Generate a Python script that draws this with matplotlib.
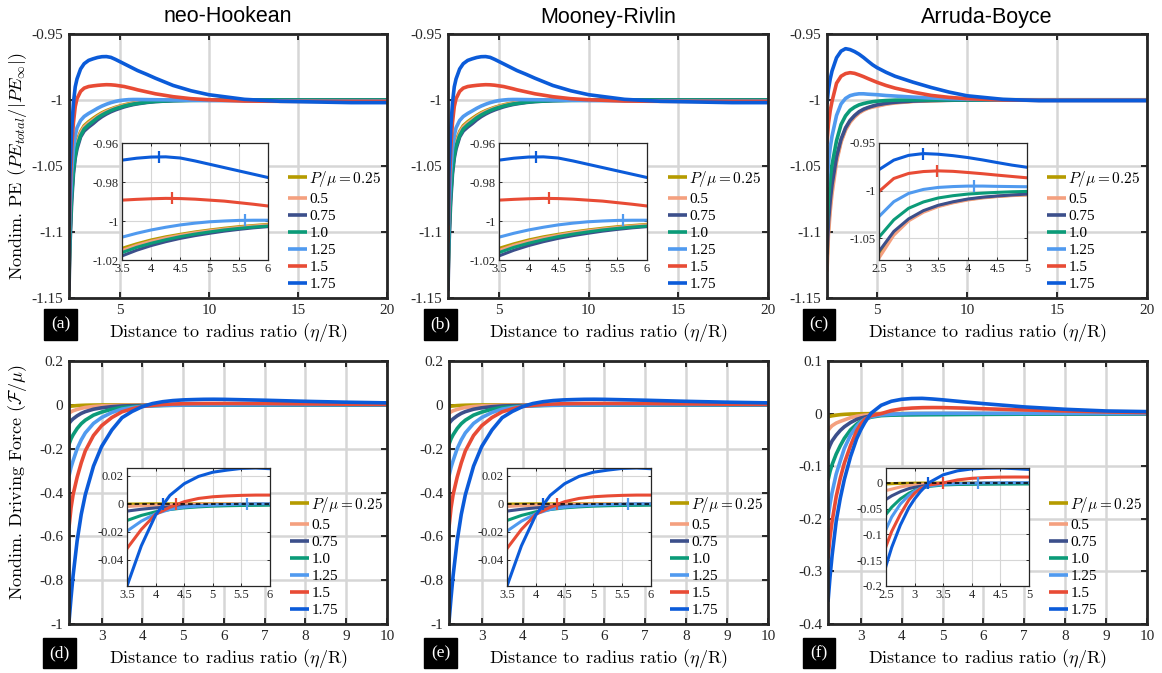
import matplotlib
matplotlib.use('Agg')
import matplotlib.pyplot as plt
from matplotlib.patches import Rectangle
from matplotlib.ticker import FuncFormatter

plt.rcParams['font.family'] = 'serif'
plt.rcParams['font.serif'] = ['Liberation Serif', 'DejaVu Serif']
plt.rcParams['mathtext.fontset'] = 'cm'
plt.rcParams['axes.unicode_minus'] = False

# ---------------- data ----------------
p_labels = [r'$P/\mu = 0.25$', '0.5', '0.75', '1.0', '1.25', '1.5', '1.75']
colors = ['#b59b00', '#f4a07f', '#3c4f8b', '#0b9b78', '#509aef', '#e84b35', '#0b5bd9']

# potential energy, neo-Hookean (Mooney-Rivlin reads the same)
x_pe_nh = [2.15, 2.2, 2.3, 2.4, 2.5, 2.6, 2.8, 3.0, 3.25, 3.5, 3.75, 4.0, 4.25, 4.5, 4.75,
           5.0, 5.25, 5.5, 5.75, 6.0, 6.5, 7, 8, 9, 10, 12, 14, 16, 18, 20]
nh_pe_025 = [-1.130, -1.100, -1.068, -1.049, -1.038, -1.031, -1.024, -1.0195, -1.0165, -1.014,
             -1.0117, -1.0097, -1.0081, -1.0068, -1.0056, -1.0046, -1.0037, -1.0029, -1.0023, -1.0017,
             -1.0010, -1.0005, -1.0001, -1.0, -1.0, -1.0, -1.0, -1.0, -1.0, -1.0]
nh_pe_050 = [-1.138, -1.105, -1.071, -1.051, -1.040, -1.033, -1.025, -1.0205, -1.0175, -1.0151,
             -1.0125, -1.0104, -1.0087, -1.0073, -1.006, -1.005, -1.0041, -1.0033, -1.0026, -1.002,
             -1.0012, -1.0007, -1.0002, -1.0, -1.0, -1.0, -1.0, -1.0, -1.0, -1.0]
nh_pe_075 = [-1.145, -1.112, -1.077, -1.056, -1.044, -1.037, -1.028, -1.0235, -1.0205, -1.0179,
             -1.015, -1.0126, -1.0106, -1.0089, -1.0075, -1.0063, -1.0052, -1.0043, -1.0035, -1.0029,
             -1.0019, -1.0012, -1.0005, -1.0002, -1.0001, -1.0, -1.0, -1.0, -1.0, -1.0]
nh_pe_100 = [-1.135, -1.105, -1.072, -1.053, -1.042, -1.035, -1.027, -1.022, -1.0188, -1.0162,
             -1.0135, -1.0114, -1.0096, -1.008, -1.0067, -1.0056, -1.0046, -1.0038, -1.0031, -1.0026,
             -1.0017, -1.0011, -1.0005, -1.0003, -1.0002, -1.0001, -1.0, -1.0, -1.0, -1.0]
nh_pe_125 = [-1.123, -1.088, -1.055, -1.037, -1.027, -1.021, -1.0155, -1.0125, -1.0102, -1.0083,
             -1.0063, -1.0046, -1.0032, -1.002, -1.0011, -1.0004, -1.0, -0.9997, -0.9996, -0.9996,
             -0.9997, -0.9998, -1.0, -1.0002, -1.0004, -1.0006, -1.0007, -1.0008, -1.0008, -1.0008]
nh_pe_150 = [-1.108, -1.072, -1.037, -1.017, -1.005, -0.999, -0.9935, -0.991, -0.9898, -0.9893,
             -0.9889, -0.9886, -0.9884, -0.9885, -0.9888, -0.9893, -0.9898, -0.9906, -0.9914, -0.9923,
             -0.9938, -0.9953, -0.9975, -0.999, -0.9998, -1.0008, -1.001, -1.001, -1.001, -1.001]
nh_pe_175 = [-1.095, -1.058, -1.022, -1.002, -0.990, -0.984, -0.9765, -0.9725, -0.970, -0.9688,
             -0.9678, -0.9672, -0.9671, -0.9677, -0.9692, -0.9709, -0.9726, -0.9743, -0.976, -0.9777,
             -0.9805, -0.9835, -0.989, -0.993, -0.996, -0.9995, -1.001, -1.0015, -1.002, -1.002]
nh_pe_peak_x = [4.13, 4.35, 5.6]
nh_pe_peak_y = [-0.9671, -0.9884, -0.9996]

# potential energy, Arruda-Boyce
x_pe_ab = [2.22, 2.3, 2.4, 2.5, 2.75, 3.0, 3.25, 3.5, 3.75, 4.0, 4.25, 4.5, 4.75, 5.0,
           5.5, 6, 7, 8, 9, 10, 12, 14, 16, 18, 20]
ab_pe_025 = [-1.122, -1.096, -1.079, -1.066, -1.045, -1.031, -1.022, -1.0162, -1.0124, -1.0094,
             -1.0074, -1.006, -1.005, -1.0042, -1.0028, -1.0019, -1.0009, -1.0004, -1.0001, -1.0,
             -0.9998, -0.9998, -0.9998, -0.9998, -0.9998]
ab_pe_050 = [-1.130, -1.102, -1.084, -1.071, -1.047, -1.0319, -1.0228, -1.0169, -1.0129, -1.0099,
             -1.0078, -1.0063, -1.0053, -1.0047, -1.0032, -1.0022, -1.0011, -1.0005, -1.0002, -1.0,
             -1.0, -1.0, -1.0, -1.0, -1.0]
ab_pe_075 = [-1.117, -1.092, -1.076, -1.064, -1.043, -1.0298, -1.0211, -1.0155, -1.0118, -1.0089,
             -1.007, -1.0057, -1.0046, -1.0037, -1.0025, -1.0017, -1.0008, -1.0004, -1.0002, -1.0,
             -1.0, -1.0, -1.0, -1.0, -1.0]
ab_pe_100 = [-1.097, -1.075, -1.060, -1.049, -1.0308, -1.0186, -1.012, -1.0078, -1.0054, -1.0037,
             -1.0027, -1.0019, -1.0013, -1.0009, -1.0004, -1.0001, -1.0, -1.0, -1.0, -1.0,
             -1.0, -1.0, -1.0, -1.0, -1.0]
ab_pe_125 = [-1.066, -1.048, -1.036, -1.0273, -1.0117, -1.003, -0.9988, -0.9967, -0.9958, -0.9953,
             -0.9953, -0.9956, -0.9958, -0.996, -0.9966, -0.997, -0.9978, -0.9985, -0.999, -0.9994,
             -0.9998, -1.0, -1.0, -1.0, -1.0]
ab_pe_150 = [-1.033, -1.018, -1.008, -1.001, -0.9873, -0.982, -0.980, -0.9793, -0.9798, -0.981,
             -0.9823, -0.9838, -0.9852, -0.9866, -0.989, -0.991, -0.994, -0.9965, -0.998, -0.999,
             -1.0, -1.0003, -1.0003, -1.0003, -1.0003]
ab_pe_175 = [-1.003, -0.992, -0.984, -0.978, -0.968, -0.963, -0.9611, -0.9618, -0.9633, -0.9653,
             -0.9678, -0.9706, -0.9733, -0.9755, -0.979, -0.982, -0.9865, -0.9905, -0.994, -0.9968,
             -0.9995, -1.0005, -1.0005, -1.0005, -1.0005]
ab_pe_peak_x = [3.25, 3.48, 4.1]
ab_pe_peak_y = [-0.9611, -0.9793, -0.9953]

# driving force, neo-Hookean (Mooney-Rivlin reads the same)
x_f_nh = [2.2, 2.25, 2.3, 2.4, 2.5, 2.6, 2.8, 3.0, 3.25, 3.5, 3.75, 4.0, 4.25, 4.5, 4.75,
          5.0, 5.25, 5.5, 5.75, 6.0, 7, 8, 9, 10]
nh_f_025 = [-0.008, -0.006, -0.005, -0.0035, -0.0025, -0.0018, -0.001, -0.0006, -0.0003, -0.0002,
            -0.0001, 0, 0, 0, 0, 0, 0, 0, 0, 0, 0, 0, 0, 0]
nh_f_050 = [-0.038, -0.032, -0.027, -0.021, -0.016, -0.012, -0.0075, -0.005, -0.003, -0.0019,
            -0.0014, -0.001, -0.0007, -0.0005, -0.0003, -0.0002, -0.0001, 0, 0, 0, 0, 0, 0, 0]
nh_f_075 = [-0.085, -0.073, -0.064, -0.05, -0.039, -0.031, -0.02, -0.0135, -0.0085, -0.0052,
            -0.0039, -0.0029, -0.0022, -0.0017, -0.0013, -0.001, -0.0008, -0.0007, -0.0006, -0.0005,
            -0.0003, -0.0002, -0.0001, -0.0001]
nh_f_100 = [-0.18, -0.155, -0.137, -0.108, -0.086, -0.07, -0.047, -0.033, -0.02, -0.0119,
            -0.0083, -0.0057, -0.0041, -0.0029, -0.0022, -0.0017, -0.0014, -0.0012, -0.0011, -0.001,
            -0.0008, -0.0006, -0.0005, -0.0004]
nh_f_125 = [-0.325, -0.285, -0.255, -0.20, -0.16, -0.128, -0.085, -0.058, -0.035, -0.0195,
            -0.0124, -0.0071, -0.004, -0.0024, -0.0016, -0.001, -0.0006, -0.0002, 0.0, 0.0,
            0.0003, 0.0004, 0.0004, 0.0004]
nh_f_150 = [-0.56, -0.47, -0.41, -0.33, -0.265, -0.21, -0.14, -0.095, -0.058, -0.0319,
            -0.0183, -0.0075, -0.0025, 0.0015, 0.0038, 0.005, 0.0056, 0.006, 0.0062, 0.0062,
            0.006, 0.0045, 0.003, 0.002]
nh_f_175 = [-0.99, -0.88, -0.78, -0.62, -0.50, -0.41, -0.28, -0.19, -0.115, -0.0586,
            -0.030, -0.008, 0.006, 0.0143, 0.0195, 0.0225, 0.024, 0.0252, 0.0255, 0.025,
            0.021, 0.016, 0.012, 0.009]
nh_f_zero_x = [4.13, 4.36, 5.6]

# driving force, Arruda-Boyce
x_f_ab = [2.2, 2.25, 2.3, 2.4, 2.5, 2.6, 2.75, 2.9, 3.0, 3.1, 3.25, 3.5, 3.75, 4.0, 4.25,
          4.5, 4.75, 5.0, 5.5, 6, 7, 8, 9, 10]
ab_f_025 = [-0.006, -0.005, -0.0042, -0.003, -0.002, -0.0014, -0.0008, -0.0005, -0.0003, -0.0002,
            -0.0001, 0, 0, 0, 0, 0, 0, 0, 0, 0, 0, 0, 0, 0]
ab_f_050 = [-0.032, -0.027, -0.023, -0.018, -0.0148, -0.012, -0.0078, -0.005, -0.004, -0.003,
            -0.002, -0.001, -0.0006, -0.0004, -0.0003, -0.0002, -0.0002, -0.0001, 0, 0, 0, 0, 0, 0]
ab_f_075 = [-0.07, -0.06, -0.052, -0.041, -0.032, -0.025, -0.017, -0.011, -0.0085, -0.0066,
            -0.0043, -0.0026, -0.0018, -0.0014, -0.0013, -0.0012, -0.0011, -0.001, -0.0008, -0.0007,
            -0.0005, -0.0003, -0.0002, -0.0001]
ab_f_100 = [-0.127, -0.11, -0.097, -0.077, -0.061, -0.047, -0.031, -0.02, -0.0145, -0.011,
            -0.0068, -0.0039, -0.003, -0.0026, -0.0024, -0.0022, -0.0021, -0.002, -0.0017, -0.0015,
            -0.0011, -0.0008, -0.0006, -0.0004]
ab_f_125 = [-0.20, -0.172, -0.15, -0.115, -0.090, -0.066, -0.041, -0.024, -0.016, -0.0105,
            -0.0058, -0.0026, -0.0014, -0.0004, 0.0002, 0.0004, 0.0005, 0.0006, 0.0006, 0.0006,
            0.0005, 0.0004, 0.0003, 0.0002]
ab_f_150 = [-0.275, -0.235, -0.205, -0.158, -0.123, -0.094, -0.061, -0.033, -0.02, -0.011,
            -0.004, 0.0, 0.0058, 0.009, 0.0105, 0.0113, 0.0115, 0.0114, 0.0105, 0.0092,
            0.007, 0.005, 0.0032, 0.002]
ab_f_175 = [-0.358, -0.31, -0.27, -0.205, -0.161, -0.125, -0.082, -0.048, -0.031, -0.017,
            0.0005, 0.0158, 0.0235, 0.0272, 0.0287, 0.029, 0.0278, 0.0262, 0.0225, 0.019,
            0.0127, 0.0082, 0.005, 0.0038]
ab_f_zero_x = [3.24, 3.49, 4.1]

nh_pe = [nh_pe_025, nh_pe_050, nh_pe_075, nh_pe_100, nh_pe_125, nh_pe_150, nh_pe_175]
ab_pe = [ab_pe_025, ab_pe_050, ab_pe_075, ab_pe_100, ab_pe_125, ab_pe_150, ab_pe_175]
nh_f = [nh_f_025, nh_f_050, nh_f_075, nh_f_100, nh_f_125, nh_f_150, nh_f_175]
ab_f = [ab_f_025, ab_f_050, ab_f_075, ab_f_100, ab_f_125, ab_f_150, ab_f_175]

titles = ['neo-Hookean', 'Mooney-Rivlin', 'Arruda-Boyce']
panel_tags = ['(a)', '(b)', '(c)', '(d)', '(e)', '(f)']

# ---------------- layout (pixels) ----------------
W, H = 1162, 673
fig = plt.figure(figsize=(W / 100, H / 100), dpi=100)


def px(l, t, r, b):
    return [l / W, 1 - b / H, (r - l) / W, (b - t) / H]


fmt = FuncFormatter(lambda v, p: '%g' % round(v, 6))
spine_col = '#262626'


def style(ax, main=True):
    for s in ax.spines.values():
        s.set_linewidth(2.0 if main else 0.9)
        s.set_color(spine_col)
    ax.grid(True, color='#d6d6d6', lw=1.8 if main else 0.8)
    ax.set_axisbelow(True)
    ax.tick_params(direction='in', top=True, right=True,
                   length=4.5 if main else 2.5, width=1.4 if main else 0.7,
                   labelsize=11 if main else 9, pad=4 if main else 2.5,
                   colors=spine_col, labelcolor='#262626')
    ax.xaxis.set_major_formatter(fmt)
    ax.yaxis.set_major_formatter(fmt)


main_boxes = [(69, 34, 387, 298), (448, 34, 768, 298), (827, 34, 1147, 298),
              (69, 361, 387, 624), (449, 361, 768, 624), (828, 361, 1147, 624)]
inset_boxes = [(122, 143, 268, 260), (499, 143, 647, 260), (879, 143, 1027, 260),
               (127, 468, 270, 586), (507, 468, 651, 586), (886, 468, 1029, 586)]
legend_x = [288, 668, 1047, 290, 670, 1049]
tag_boxes = [(44, 309, 77, 340), (424, 309, 457, 340), (803, 309, 835, 340),
             (43, 638, 76, 668), (424, 638, 457, 668), (803, 638, 835, 668)]

for k in range(6):
    top = k < 3
    col = k % 3
    if top:
        xs = x_pe_ab if col == 2 else x_pe_nh
        ys = ab_pe if col == 2 else nh_pe
    else:
        xs = x_f_ab if col == 2 else x_f_nh
        ys = ab_f if col == 2 else nh_f

    ax = fig.add_axes(px(*main_boxes[k]))
    handles = []
    for i in range(7):
        h, = ax.plot(xs, ys[i], color=colors[i], lw=2.6, solid_capstyle='butt')
        handles.append(h)
    ax.set_xlim(xs[0], xs[-1])
    if top:
        ax.set_ylim(-1.15, -0.95)
        ax.set_xticks([5, 10, 15, 20])
        ax.set_yticks([-1.15, -1.1, -1.05, -1, -0.95])
    else:
        ax.set_xticks(range(3, 11))
        if col == 2:
            ax.set_ylim(-0.4, 0.1)
            ax.set_yticks([-0.4, -0.3, -0.2, -0.1, 0, 0.1])
        else:
            ax.set_ylim(-1, 0.2)
            ax.set_yticks([-1, -0.8, -0.6, -0.4, -0.2, 0, 0.2])
    style(ax, True)

    # inset
    ins = fig.add_axes(px(*inset_boxes[k]))
    for i in range(7):
        ins.plot(xs, ys[i], color=colors[i], lw=2.2, solid_capstyle='butt')
    if top:
        if col == 2:
            ins.set_xlim(2.5, 5)
            ins.set_ylim(-1.073, -0.95)
            ins.set_yticks([-1.05, -1, -0.95])
            mx, my = ab_pe_peak_x, ab_pe_peak_y
        else:
            ins.set_xlim(3.5, 6)
            ins.set_ylim(-1.02, -0.96)
            ins.set_yticks([-1.02, -1, -0.98, -0.96])
            mx, my = nh_pe_peak_x, nh_pe_peak_y
    else:
        ins.axhline(0, color='black', lw=1.1, ls=(0, (3, 2)), zorder=5)
        if col == 2:
            ins.set_xlim(2.5, 5)
            ins.set_ylim(-0.2, 0.029)
            ins.set_yticks([-0.2, -0.15, -0.1, -0.05, 0])
            mx, my = ab_f_zero_x, [0, 0, 0]
        else:
            ins.set_xlim(3.5, 6)
            ins.set_ylim(-0.0586, 0.0255)
            ins.set_yticks([-0.04, -0.02, 0, 0.02])
            mx, my = nh_f_zero_x, [0, 0, 0]
    for j, ci in enumerate([6, 5, 4]):
        ins.plot(mx[j], my[j], marker='|', ms=8, mew=1.6, color=colors[ci], zorder=6)
    if col == 2:
        ins.set_xticks([2.5, 3, 3.5, 4, 4.5, 5])
    else:
        ins.set_xticks([3.5, 4, 4.5, 5, 5.5, 6])
    style(ins, False)

    # legend
    yc = 230 if top else 556
    ax.legend(handles, p_labels, loc='center left', frameon=False,
              bbox_to_anchor=(legend_x[k] / W, 1 - yc / H), bbox_transform=fig.transFigure,
              borderpad=0, borderaxespad=0, handlelength=1.25, handletextpad=0.15,
              labelspacing=0.22, fontsize=11)

    # labels
    cx = (main_boxes[k][0] + main_boxes[k][2]) / 2
    ylab = 332 if top else 658
    fig.text(cx / W, 1 - ylab / H, r'Distance to radius ratio ($\eta/\mathrm{R}$)',
             ha='center', va='center', fontsize=13, family='cmr10')
    if top:
        fig.text(cx / W, 1 - 17 / H, titles[col], ha='center', va='center',
                 fontsize=15.5, family='Liberation Sans')

    # panel tag
    l, t, r, b = tag_boxes[k]
    fig.patches.append(Rectangle((l / W, 1 - b / H), (r - l) / W, (b - t) / H,
                                 transform=fig.transFigure, color='black'))
    fig.text((l + r) / 2 / W, 1 - (t + b) / 2 / H, panel_tags[k], color='white',
             ha='center', va='center', fontsize=12.5)

fig.text(18 / W, 1 - 166 / H, r'Nondim. PE ($PE_{total}/|PE_\infty|$)', rotation=90,
         ha='center', va='center', fontsize=13, family='cmr10')
fig.text(18 / W, 1 - 482 / H, r'Nondim. Driving Force ($\mathcal{F}/\mu$)', rotation=90,
         ha='center', va='center', fontsize=13, family='cmr10')

fig.savefig('out.png', dpi=100)
